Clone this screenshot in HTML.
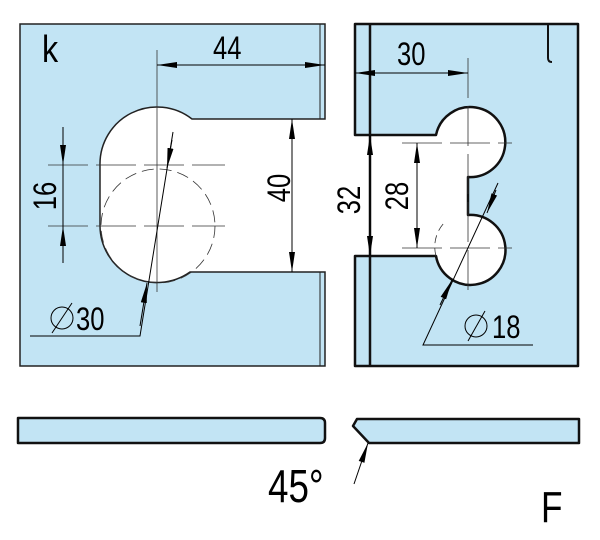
<!DOCTYPE html>
<html><head><meta charset="utf-8"><style>html,body{margin:0;padding:0;background:#fff}svg{display:block}</style></head>
<body>
<svg width="600" height="540" viewBox="0 0 600 540" xmlns="http://www.w3.org/2000/svg" font-family="Liberation Sans, sans-serif">
<defs>
<marker id="a" viewBox="0 0 20 8" refX="20" refY="4" markerWidth="20" markerHeight="8" markerUnits="userSpaceOnUse" orient="auto-start-reverse"><path d="M0,1 L20,4 L0,7 z" fill="#000"/></marker>
</defs>
<path d="M20,24 H325 V119 H192 A57,57 0 0 0 100,165 V226 A57,57 0 0 0 190,272 H325 V366 H20 Z" fill="#c2e4f4" stroke="#222" stroke-width="1.5"/>
<line x1="320" y1="24" x2="320" y2="119" stroke="#222" stroke-width="1"/>
<line x1="320" y1="272" x2="320" y2="366" stroke="#222" stroke-width="1"/>
<text transform="translate(42,62) scale(0.85,1)" font-size="38">k</text>
<line x1="157" y1="50" x2="157" y2="292" stroke="#333" stroke-width="0.8"/>
<line x1="48" y1="165" x2="225" y2="165" stroke="#333" stroke-width="0.8" stroke-dasharray="40,8"/>
<line x1="48" y1="226" x2="225" y2="226" stroke="#333" stroke-width="0.8" stroke-dasharray="40,8"/>
<circle cx="158" cy="226" r="57" fill="none" stroke="#333" stroke-width="0.8" stroke-dasharray="12,6"/>
<line x1="157" y1="65" x2="325" y2="65" stroke="#000" stroke-width="1" marker-start="url(#a)" marker-end="url(#a)"/>
<text transform="translate(213,59) scale(0.8,1)" font-size="32">44</text>
<line x1="292" y1="119" x2="292" y2="272" stroke="#000" stroke-width="1" marker-start="url(#a)" marker-end="url(#a)"/>
<text transform="translate(290,188) rotate(-90) scale(0.8,1)" text-anchor="middle" font-size="32">40</text>
<line x1="63" y1="127" x2="63" y2="165" stroke="#000" stroke-width="1" marker-end="url(#a)"/>
<line x1="63" y1="263" x2="63" y2="226" stroke="#000" stroke-width="1" marker-end="url(#a)"/>
<line x1="63" y1="165" x2="63" y2="226" stroke="#000" stroke-width="1"/>
<text transform="translate(56,196) rotate(-90) scale(0.8,1)" text-anchor="middle" font-size="32">16</text>
<polyline points="30,336 140,336 173,132" fill="none" stroke="#000" stroke-width="1"/>
<line x1="140" y1="326" x2="147" y2="283" stroke="#000" stroke-width="1" marker-end="url(#a)"/>
<line x1="172" y1="140" x2="167" y2="168" stroke="#000" stroke-width="1" marker-end="url(#a)"/>
<circle cx="62" cy="318" r="11" fill="none" stroke="#000" stroke-width="1"/>
<line x1="52" y1="333" x2="72" y2="303" stroke="#000" stroke-width="1"/>
<text transform="translate(76,330) scale(0.8,1)" font-size="32">30</text>
<path d="M355,24 H578 V366 H355 V256 H436 A35,35 0 1 0 468,215 V177 A35,35 0 1 0 436,135 H355 Z" fill="#c2e4f4" stroke="#111" stroke-width="2.5" stroke-linejoin="round"/>
<line x1="370" y1="24" x2="370" y2="366" stroke="#111" stroke-width="2.5"/>
<path d="M548,24 V58 Q548,62 552,62" fill="none" stroke="#111" stroke-width="2"/>
<line x1="468" y1="58" x2="468" y2="292" stroke="#333" stroke-width="0.8" stroke-dasharray="40,8"/>
<line x1="402" y1="143" x2="512" y2="143" stroke="#333" stroke-width="0.8" stroke-dasharray="40,8"/>
<line x1="402" y1="248" x2="512" y2="248" stroke="#333" stroke-width="0.8" stroke-dasharray="40,8"/>
<path d="M436,256 A35,35 0 0 1 445,222" fill="none" stroke="#333" stroke-width="0.8" stroke-dasharray="8,5"/>
<line x1="355" y1="73" x2="468" y2="73" stroke="#000" stroke-width="1" marker-start="url(#a)" marker-end="url(#a)"/>
<text transform="translate(397,65) scale(0.8,1)" font-size="32">30</text>
<line x1="370" y1="135" x2="370" y2="256" stroke="#000" stroke-width="1" marker-start="url(#a)" marker-end="url(#a)"/>
<text transform="translate(360,200) rotate(-90) scale(0.8,1)" text-anchor="middle" font-size="32">32</text>
<line x1="417" y1="143" x2="417" y2="248" stroke="#000" stroke-width="1" marker-start="url(#a)" marker-end="url(#a)"/>
<text transform="translate(408,196) rotate(-90) scale(0.8,1)" text-anchor="middle" font-size="32">28</text>
<polyline points="533,345 423,345 498,183" fill="none" stroke="#000" stroke-width="1"/>
<line x1="440" y1="305" x2="452" y2="280" stroke="#000" stroke-width="1" marker-end="url(#a)"/>
<line x1="496" y1="190" x2="487" y2="213" stroke="#000" stroke-width="1" marker-end="url(#a)"/>
<circle cx="476" cy="326" r="11" fill="none" stroke="#000" stroke-width="1"/>
<line x1="468" y1="341" x2="485" y2="311" stroke="#000" stroke-width="1"/>
<text transform="translate(492,338) scale(0.8,1)" font-size="32">18</text>
<path d="M18,418 H320 Q325,418 325,423 V438 Q325,443 320,443 H18 Z" fill="#c2e4f4" stroke="#111" stroke-width="2.5" stroke-linejoin="round"/>
<path d="M357,419 H579 V443 H369 L353,426 Z" fill="#c2e4f4" stroke="#111" stroke-width="2.5" stroke-linejoin="round"/>
<line x1="354" y1="484" x2="368" y2="443" stroke="#000" stroke-width="1" marker-end="url(#a)"/>
<text transform="translate(268,502) scale(0.8,1)" font-size="46">45°</text>
<text transform="translate(541,522) scale(0.8,1)" font-size="44">F</text>
</svg>
</body></html>
